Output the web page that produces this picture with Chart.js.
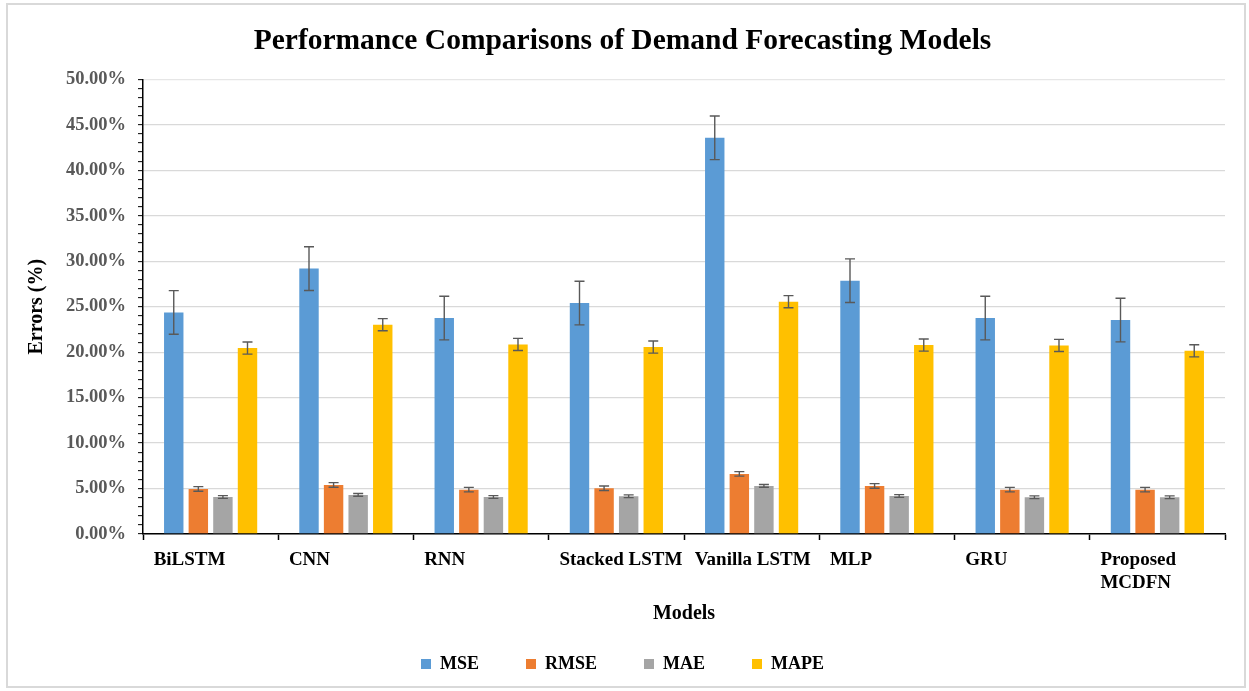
<!DOCTYPE html>
<html>
<head>
<meta charset="utf-8">
<script src="https://cdn.jsdelivr.net/npm/chart.js@4.4.1/dist/chart.umd.min.js"></script>
<style>
  html, body { margin: 0; padding: 0; background: #fff; }
  #wrap { position: relative; width: 1249px; height: 691px; }
  #frame { position: absolute; left: 6px; top: 3px; width: 1240px; height: 685px;
           border: 2px solid #d9d9d9; box-sizing: border-box; pointer-events: none; }
</style>
</head>
<body>
<div id="wrap">
  <canvas id="chart" width="1249" height="691"></canvas>
  <div id="frame"></div>
</div>
<script>
// values in percent
const models = ['BiLSTM', 'CNN', 'RNN', 'Stacked LSTM', 'Vanilla LSTM', 'MLP', 'GRU', ['Proposed', 'MCDFN']];
const mse  = [24.37, 29.19, 23.75, 25.40, 43.58, 27.86, 23.75, 23.53];
const rmse = [4.96, 5.40, 4.88, 5.03, 6.61, 5.29, 4.88, 4.88];
const mae  = [4.07, 4.30, 4.07, 4.15, 5.29, 4.18, 4.04, 4.04];
const mape = [20.45, 23.02, 20.85, 20.56, 25.55, 20.78, 20.74, 20.15];
const mseErr  = [2.4, 2.4, 2.4, 2.4, 2.4, 2.4, 2.4, 2.4];
const rmseErr = [0.25, 0.25, 0.25, 0.25, 0.25, 0.25, 0.25, 0.25];
const maeErr  = [0.15, 0.15, 0.15, 0.15, 0.15, 0.15, 0.15, 0.15];
const mapeErr = [0.67, 0.67, 0.67, 0.67, 0.67, 0.67, 0.67, 0.67];

const serif = '"Liberation Serif", "Times New Roman", serif';

// draws the error whiskers from each dataset's err array
const errorBars = {
    id: 'errorBars',
    afterDatasetsDraw(chart) {
        const ctx = chart.ctx;
        const y = chart.scales.y;
        ctx.save();
        ctx.strokeStyle = '#595959';
        ctx.lineWidth = 1.4;
        chart.data.datasets.forEach(function(ds, di) {
            const meta = chart.getDatasetMeta(di);
            if (meta.hidden) return;
            meta.data.forEach(function(bar, i) {
                const v = ds.data[i], e = ds.err[i];
                const top = y.getPixelForValue(v + e);
                const bot = y.getPixelForValue(v - e);
                ctx.beginPath();
                ctx.moveTo(bar.x, top); ctx.lineTo(bar.x, bot);
                ctx.moveTo(bar.x - 5, top); ctx.lineTo(bar.x + 5, top);
                ctx.moveTo(bar.x - 5, bot); ctx.lineTo(bar.x + 5, bot);
                ctx.stroke();
            });
        });
        ctx.restore();
    }
};

new Chart(document.getElementById('chart'), {
    type: 'bar',
    data: {
        labels: models,
        datasets: [
            { label: 'MSE',  data: mse,  err: mseErr,  backgroundColor: '#5B9BD5' },
            { label: 'RMSE', data: rmse, err: rmseErr, backgroundColor: '#ED7D31' },
            { label: 'MAE',  data: mae,  err: maeErr,  backgroundColor: '#A5A5A5' },
            { label: 'MAPE', data: mape, err: mapeErr, backgroundColor: '#FFC000' }
        ]
    },
    options: {
        responsive: false,
        animation: false,
        devicePixelRatio: 1,
        categoryPercentage: 0.727,
        barPercentage: 0.79,
        layout: { padding: { left: 20, right: 24, top: 8, bottom: 8 } },
        plugins: {
            title: {
                display: true,
                text: 'Performance Comparisons of Demand Forecasting Models',
                color: '#000',
                font: { family: serif, size: 29.5, weight: 'bold' },
                padding: { top: 16, bottom: 20 }
            },
            legend: {
                position: 'bottom',
                labels: {
                    boxWidth: 10, boxHeight: 10, padding: 47,
                    color: '#000',
                    font: { family: serif, size: 18, weight: 'bold' }
                }
            },
            tooltip: { enabled: false }
        },
        scales: {
            x: {
                grid: { drawOnChartArea: false, drawTicks: true, tickLength: 6, tickColor: '#000', tickWidth: 1.5 },
                border: { color: '#000', width: 1.5 },
                ticks: {
                    color: '#000', align: 'start', labelOffset: -57, padding: 9,
                    autoSkip: false, maxRotation: 0,
                    font: { family: serif, size: 19, weight: 'bold' }
                },
                title: {
                    display: true, text: 'Models', color: '#000',
                    font: { family: serif, size: 20, weight: 'bold' },
                    padding: { top: 12, bottom: -18 }
                },
                afterFit(scale) { scale.height = 74; }
            },
            y: {
                min: 0, max: 50,
                grid: {
                    color: function(c) {
                        if (c.tick.value === 50) return '#e6e6e6';
                        return c.tick.value % 5 === 0 ? '#d9d9d9' : 'rgba(0,0,0,0)';
                    },
                    lineWidth: 1.3,
                    tickColor: '#000', tickLength: 5, tickWidth: 1
                },
                border: { color: '#000', width: 1.5 },
                ticks: {
                    stepSize: 1, autoSkip: false, padding: 12,
                    color: '#595959',
                    font: { family: serif, size: 18.5, weight: 'bold' },
                    callback: function(v) { return v % 5 === 0 ? v.toFixed(2) + '%' : ''; }
                },
                title: {
                    display: true, text: 'Errors (%)', color: '#000',
                    font: { family: serif, size: 20, weight: 'bold' },
                    padding: { top: 5, bottom: 0 }
                },
                afterFit(scale) { scale.width = 123; }
            }
        }
    },
    plugins: [errorBars]
});
</script>
</body>
</html>
